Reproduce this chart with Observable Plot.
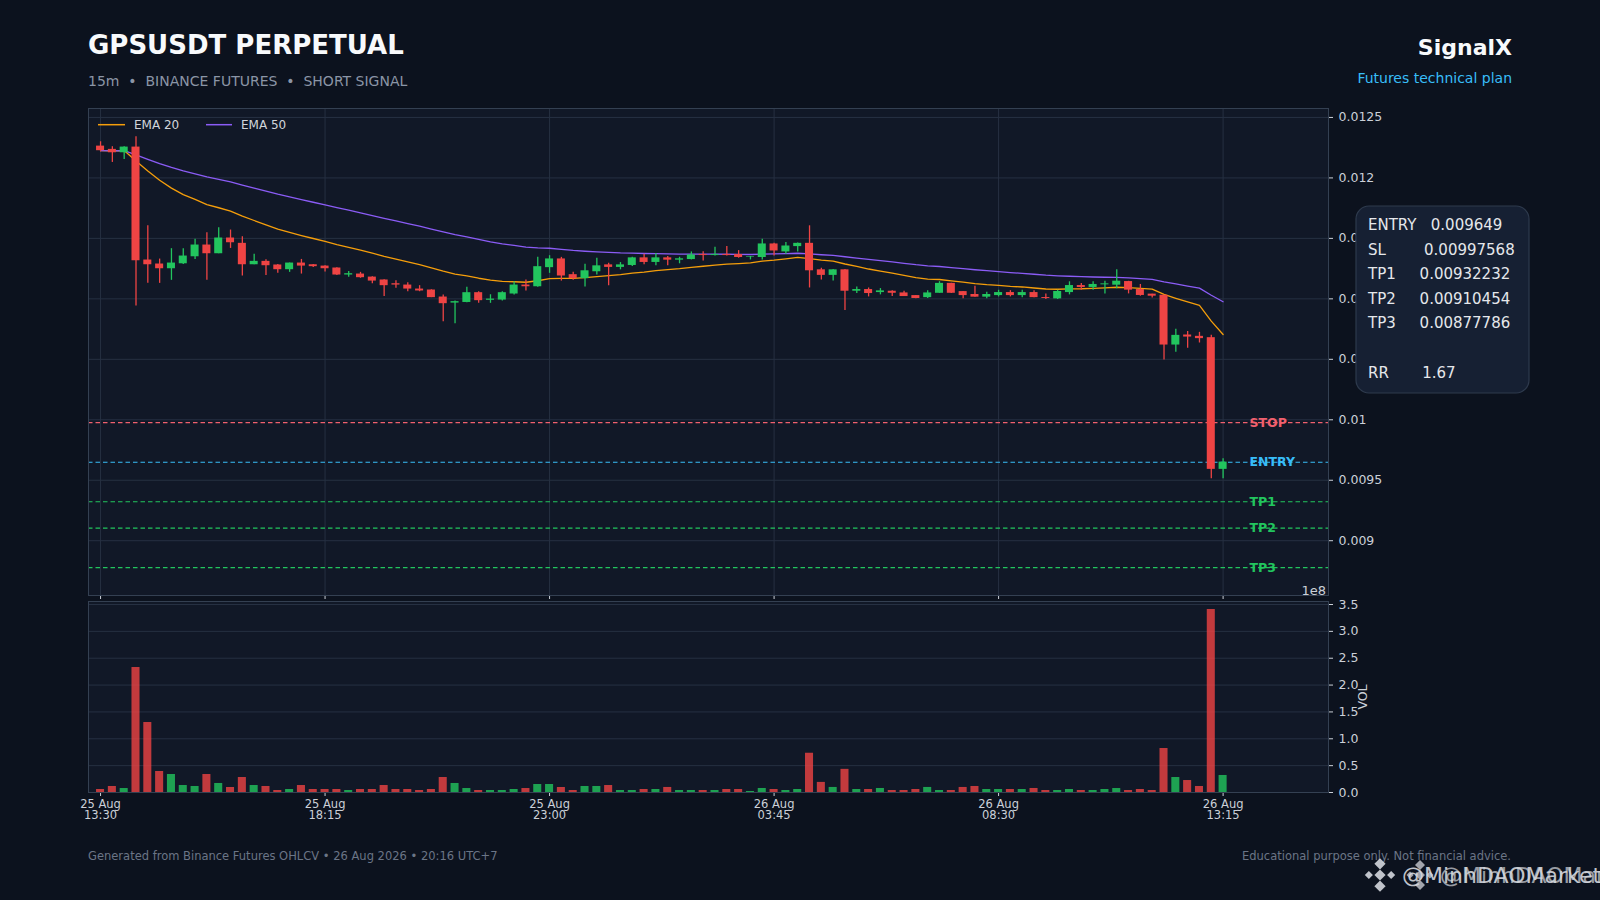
<!DOCTYPE html>
<html><head><meta charset="utf-8">
<script src="https://cdn.jsdelivr.net/npm/d3@7"></script>
<script src="https://cdn.jsdelivr.net/npm/@observablehq/plot@0.6"></script>
<style>
html,body{margin:0;padding:0;background:#0c121e;}
body{width:1600px;height:900px;position:relative;overflow:hidden;font-family:"DejaVu Sans",sans-serif;}
#price,#vol,#overlay{position:absolute;left:0;}
#price{top:100px;} #vol{top:595px;} #overlay{top:0;pointer-events:none;}
</style></head><body>
<div id="price"></div>
<div id="vol"></div>
<script>
// ---- data (15m candles, 25 Aug 13:30 -> 26 Aug 13:15) ----
const open = [0.012263,0.012236,0.012208,0.012255,0.011321,0.011288,0.011249,0.011290,0.011348,0.011445,
0.011373,0.011503,0.011459,0.011282,0.011310,0.011280,0.011241,0.011296,0.011282,0.011271,
0.011255,0.011197,0.011205,0.011180,0.011156,0.011125,0.011114,0.011081,0.011073,0.011015,
0.010965,0.010970,0.011051,0.010988,0.010990,0.011040,0.011114,0.011100,0.011258,0.011330,
0.011200,0.011167,0.011224,0.011281,0.011260,0.011276,0.011339,0.011301,0.011339,0.011320,
0.011325,0.011366,0.011358,0.011366,0.011366,0.011342,0.011342,0.011454,0.011388,0.011432,
0.011459,0.011240,0.011194,0.011240,0.011063,0.011077,0.011052,0.011063,0.011049,0.011027,
0.011010,0.011046,0.011128,0.011060,0.011036,0.011014,0.011027,0.011052,0.011027,0.011052,
0.011011,0.011000,0.011052,0.011110,0.011094,0.011116,0.011113,0.011143,0.011077,0.011039,
0.011030,0.010618,0.010701,0.010690,0.010679,0.009590];
const high = [0.012299,0.012258,0.012258,0.012340,0.011605,0.011329,0.011415,0.011415,0.011492,0.011547,
0.011588,0.011569,0.011514,0.011368,0.011324,0.011285,0.011296,0.011326,0.011285,0.011274,
0.011257,0.011227,0.011219,0.011183,0.011158,0.011150,0.011134,0.011109,0.011075,0.011032,
0.010982,0.011095,0.011059,0.011034,0.011059,0.011142,0.011156,0.011343,0.011357,0.011343,
0.011219,0.011287,0.011336,0.011295,0.011300,0.011344,0.011369,0.011374,0.011350,0.011344,
0.011388,0.011390,0.011426,0.011432,0.011399,0.011350,0.011492,0.011460,0.011465,0.011462,
0.011604,0.011254,0.011242,0.011242,0.011098,0.011090,0.011085,0.011066,0.011063,0.011027,
0.011066,0.011142,0.011128,0.011060,0.011104,0.011055,0.011071,0.011068,0.011071,0.011068,
0.011041,0.011072,0.011141,0.011127,0.011141,0.011146,0.011240,0.011145,0.011119,0.011039,
0.011030,0.010748,0.010731,0.010723,0.010698,0.009678];
const low = [0.012216,0.012128,0.012153,0.010941,0.011128,0.011128,0.011153,0.011285,0.011326,0.011153,
0.011373,0.011417,0.011189,0.011282,0.011194,0.011211,0.011219,0.011205,0.011260,0.011222,
0.011194,0.011178,0.011170,0.011125,0.011020,0.011087,0.011059,0.011059,0.011010,0.010811,
0.010795,0.010968,0.010963,0.010963,0.010982,0.011032,0.011065,0.011095,0.011211,0.011147,
0.011153,0.011098,0.011197,0.011109,0.011240,0.011268,0.011281,0.011273,0.011273,0.011290,
0.011322,0.011314,0.011355,0.011355,0.011336,0.011322,0.011322,0.011355,0.011369,0.011388,
0.011090,0.011156,0.011148,0.010904,0.011044,0.011016,0.011033,0.011019,0.011019,0.011000,
0.011003,0.011046,0.011044,0.011000,0.011014,0.011000,0.011016,0.011016,0.011010,0.011010,
0.010994,0.010994,0.011033,0.011072,0.011072,0.011041,0.011083,0.011041,0.011022,0.011006,
0.010494,0.010558,0.010591,0.010635,0.009513,0.009513];
const close = [0.012225,0.012208,0.012255,0.011315,0.011282,0.011249,0.011296,0.011354,0.011445,0.011373,
0.011503,0.011464,0.011282,0.011310,0.011274,0.011241,0.011296,0.011271,0.011266,0.011249,
0.011197,0.011208,0.011175,0.011147,0.011109,0.011114,0.011081,0.011065,0.011010,0.010960,
0.010977,0.011051,0.010985,0.010998,0.011051,0.011114,0.011100,0.011266,0.011330,0.011189,
0.011167,0.011232,0.011273,0.011260,0.011281,0.011339,0.011301,0.011339,0.011320,0.011331,
0.011363,0.011358,0.011366,0.011358,0.011342,0.011347,0.011454,0.011396,0.011437,0.011459,
0.011232,0.011194,0.011240,0.011063,0.011077,0.011044,0.011066,0.011046,0.011019,0.011003,
0.011049,0.011128,0.011046,0.011027,0.011014,0.011036,0.011052,0.011027,0.011052,0.011010,
0.011003,0.011061,0.011110,0.011094,0.011119,0.011124,0.011146,0.011072,0.011028,0.011022,
0.010618,0.010698,0.010684,0.010671,0.009590,0.009650];
// volume in units of 1e8
const volume = [0.056,0.112,0.074,2.327,1.303,0.391,0.335,0.130,0.112,0.335,
0.168,0.093,0.279,0.130,0.112,0.037,0.056,0.130,0.056,0.056,
0.056,0.037,0.056,0.056,0.130,0.056,0.056,0.037,0.056,0.279,
0.168,0.074,0.037,0.037,0.037,0.056,0.074,0.149,0.149,0.093,
0.037,0.112,0.112,0.130,0.037,0.037,0.056,0.056,0.094,0.037,
0.037,0.037,0.037,0.056,0.056,0.019,0.075,0.056,0.037,0.056,
0.731,0.188,0.094,0.431,0.056,0.056,0.075,0.037,0.037,0.056,
0.094,0.037,0.037,0.094,0.112,0.056,0.056,0.056,0.056,0.075,
0.037,0.037,0.056,0.037,0.037,0.056,0.074,0.037,0.056,0.037,
0.819,0.279,0.223,0.112,3.407,0.317];

const levelNames  = ["STOP","ENTRY","TP1","TP2","TP3"];
const levelValues = [0.00997568,0.009649,0.00932232,0.00910454,0.00877786];
const rr = 1.67;

const xTickIndex  = [0,19,38,57,76,95];
const xTickLabels = ["25 Aug\n13:30","25 Aug\n18:15","25 Aug\n23:00","26 Aug\n03:45","26 Aug\n08:30","26 Aug\n13:15"];
const priceTicks  = [0.009,0.0095,0.01,0.0105,0.011,0.0115,0.012,0.0125];
const volTicks    = [0,0.5,1,1.5,2,2.5,3,3.5];

// ---- styles ----
const UP="#22c55e", DOWN="#ef4444", PANEL="#111827", GRID="#263042", EDGE="#344052", TXT="#cbd0d8";
const levelColor = {STOP:"#f0606e", ENTRY:"#38bdf8", TP1:"#22c55e", TP2:"#22c55e", TP3:"#22c55e"};

function ema(arr, n){ const k=2/(n+1); const out=[]; let p=arr[0]; arr.forEach((v,i)=>{ p = i===0 ? v : v*k + p*(1-k); out.push(p); }); return out; }
const ema20 = ema(close,20), ema50 = ema(close,50);

const candles = open.map((o,i)=>({i, o, h:high[i], l:low[i], c:close[i], v:volume[i], up: close[i]>=o, e20:ema20[i], e50:ema50[i]}));
const levels = levelNames.map((n,k)=>({name:n, value:levelValues[k]}));
const col = d => d.up ? UP : DOWN;
const xDomain = [-1.02, 103.92];
const priceFmt = d => String(+d.toFixed(5));
const W = 0.34;

const baseStyle = {background:"none", color:TXT, fontFamily:"DejaVu Sans, sans-serif", fontSize:"12.5px", overflow:"visible"};

const price = Plot.plot({
  width:1600, height:505, marginLeft:88, marginRight:272, marginTop:8, marginBottom:10,
  style: baseStyle,
  x:{domain:xDomain},
  y:{domain:[0.008547,0.012574]},
  marks:[
    Plot.frame({fill:PANEL, stroke:null}),
    Plot.gridY(priceTicks, {stroke:GRID, strokeOpacity:1}),
    Plot.gridX(xTickIndex, {stroke:GRID, strokeOpacity:1}),
    Plot.text(levels, {y:"value", text:"name", frameAnchor:"right", dx:-79, textAnchor:"start", fill:d=>levelColor[d.name], fontWeight:"bold", fontSize:12.5}),
    Plot.ruleY(levels, {y:"value", stroke:d=>levelColor[d.name], strokeDasharray:"4.5,3", strokeWidth:1.2}),
    Plot.line(candles, {x:"i", y:"e20", stroke:"#f59e0b", strokeWidth:1.3}),
    Plot.line(candles, {x:"i", y:"e50", stroke:"#8b5cf6", strokeWidth:1.3}),
    Plot.ruleX(candles, {x:"i", y1:"l", y2:"h", stroke:col, strokeWidth:1.3}),
    Plot.rect(candles, {x1:d=>d.i-W, x2:d=>d.i+W, y1:"o", y2:"c", fill:col}),
    Plot.axisY(priceTicks, {anchor:"right", tickSize:4, tickPadding:6, tickFormat:priceFmt, label:null, fill:TXT}),
    Plot.axisX(xTickIndex, {anchor:"bottom", tickSize:4, tickFormat:()=>"", label:null}),
    Plot.frame({stroke:EDGE})
  ]
});
document.getElementById("price").appendChild(price);

const vol = Plot.plot({
  width:1600, height:240, marginLeft:88, marginRight:272, marginTop:6, marginBottom:43,
  style: baseStyle,
  x:{domain:xDomain},
  y:{domain:[0,3.556]},
  marks:[
    Plot.frame({fill:PANEL, stroke:null}),
    Plot.gridY(volTicks, {stroke:GRID, strokeOpacity:1}),
    Plot.rect(candles, {x1:d=>d.i-W, x2:d=>d.i+W, y1:0, y2:"v", fill:col, fillOpacity:0.8}),
    Plot.axisY(volTicks, {anchor:"right", tickSize:4, tickPadding:6, tickFormat:d=>d.toFixed(1), label:"VOL", labelAnchor:"center", labelArrow:"none", labelOffset:38, fill:TXT}),
    Plot.axisX(xTickIndex, {anchor:"bottom", tickSize:4, tickPadding:3, fontSize:11.5, lineHeight:1.0, tickFormat:d=>xTickLabels[xTickIndex.indexOf(d)], label:null}),
    Plot.frame({stroke:EDGE})
  ]
});
document.getElementById("vol").appendChild(vol);

// ---- overlay: titles, legend, info box, footer ----
const svg = d3.select("body").append("svg").attr("id","overlay").attr("width",1600).attr("height",900)
  .style("font-family","DejaVu Sans, sans-serif");
const t = (x,y,s,opt={}) => svg.append("text").attr("x",x).attr("y",y).text(s)
  .attr("font-size",opt.size||12).attr("fill",opt.fill||"#fff").attr("font-weight",opt.weight||"normal")
  .attr("text-anchor",opt.anchor||"start").style("white-space","pre");

t(88,54,"GPSUSDT PERPETUAL",{size:26,weight:"bold",fill:"#f8fafc"});
t(88,86,"15m  •  BINANCE FUTURES  •  SHORT SIGNAL",{size:14,fill:"#8b95a6"});
t(1512,55,"SignalX",{size:22,weight:"bold",anchor:"end",fill:"#f8fafc"});
t(1512,83,"Futures technical plan",{size:14,anchor:"end",fill:"#38bdf8"});

// legend
svg.append("line").attr("x1",98).attr("x2",125).attr("y1",124.7).attr("y2",124.7).attr("stroke","#f59e0b").attr("stroke-width",1.5);
t(134,129,"EMA 20",{size:12,fill:"#d1d5db"});
svg.append("line").attr("x1",206).attr("x2",232).attr("y1",124.7).attr("y2",124.7).attr("stroke","#8b5cf6").attr("stroke-width",1.5);
t(241,129,"EMA 50",{size:12,fill:"#d1d5db"});

// 1e8 offset
t(1326,595,"1e8",{size:13,anchor:"end",fill:TXT});

// info box
svg.append("rect").attr("x",1356).attr("y",206).attr("width",173).attr("height",187).attr("rx",13)
  .attr("fill","#162033").attr("stroke","#2e3a4d").attr("stroke-width",1.2);
const info = [
  ["ENTRY   "+levelValues[1], 230],
  ["SL        "+levelValues[0], 254.5],
  ["TP1     "+levelValues[2], 279],
  ["TP2     "+levelValues[3], 303.5],
  ["TP3     "+levelValues[4], 328],
  ["RR       "+rr.toFixed(2), 377.5]
];
info.forEach(([s,y])=>t(1368,y,s,{size:15,fill:"#e5e7eb"}));

// footer
t(88,860,"Generated from Binance Futures OHLCV • 26 Aug 2026 • 20:16 UTC+7",{size:11.5,fill:"#6b7586"});
t(1511,860,"Educational purpose only. Not financial advice.",{size:11.5,anchor:"end",fill:"#6b7586"});

// watermark (two overlapping copies)
function logo(cx,cy,s,op){
  const g = svg.append("g").attr("fill","#d4d7dd").attr("opacity",op);
  const sq=(x,y,r)=>g.append("rect").attr("x",x-r).attr("y",y-r).attr("width",2*r).attr("height",2*r).attr("transform",`rotate(45 ${x} ${y})`);
  sq(cx,cy,s*0.22); sq(cx-s*0.62,cy,s*0.16); sq(cx+s*0.62,cy,s*0.16);
  sq(cx,cy-s*0.62,s*0.22); sq(cx,cy+s*0.62,s*0.22);
}
logo(1380,875,18,0.9);
t(1402,883,"@MinhDAOMarket",{size:22,fill:"#d4d7dd"}).attr("opacity",0.9);
logo(1420,875,16,0.75);
t(1440,883,"@MinhDAOMarket",{size:22,fill:"#d4d7dd"}).attr("opacity",0.7);
</script>
</body></html>
